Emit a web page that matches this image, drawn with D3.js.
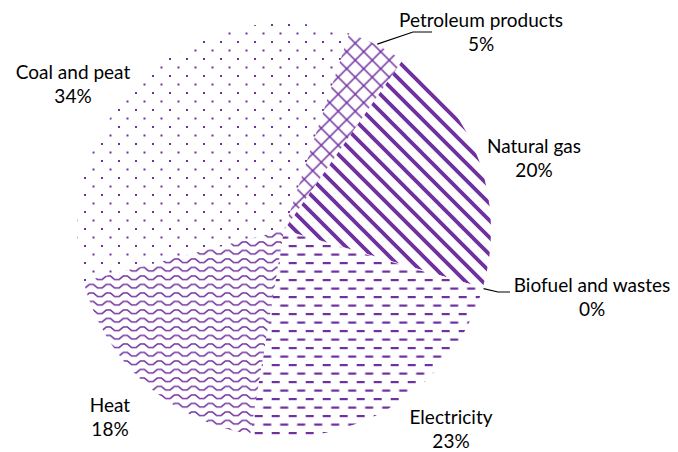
<!DOCTYPE html>
<html>
<head>
<meta charset="utf-8">
<script src="https://cdn.jsdelivr.net/npm/d3@7"></script>
<style>
  body { margin: 0; background: #fff; }
  text { font-family: Lato, "Open Sans", sans-serif; }
</style>
</head>
<body>
<div id="chart"></div>
<script>
// data, in IEA order (slices run clockwise from the first slice angle)
var categories = ["Coal and peat", "Petroleum products", "Natural gas", "Biofuel and wastes", "Electricity", "Heat"];
var shares = [34.1, 4.6, 19.8, 0.1, 23.0, 18.4];
var fills = ["dots", "cross", "stripes", null, "dashes", "waves"];

var svgWidth = 678;
var svgHeight = 452;
var purple = "#7030A0";

var cx = 284, cy = 230, radius = 207;
var firstSliceAngle = 255.6; // degrees

// where each label sits (centre x, first baseline)
var labelPos = [
  { x: 73, y: 79 },
  { x: 481, y: 27 },
  { x: 534, y: 153 },
  { x: 592, y: 292 },
  { x: 451, y: 424 },
  { x: 110, y: 412 }
];
// leader lines: elbow and end, only for the two small slices
var leaders = {
  1: [[413, 32], [432, 32]],
  3: [[498, 292], [510, 292]]
};

var svg = d3.select("#chart")
  .append("svg")
  .attr("width", svgWidth)
  .attr("height", svgHeight);

svg.append("rect")
  .attr("width", svgWidth)
  .attr("height", svgHeight)
  .attr("fill", "#fff");

var defs = svg.append("defs");

// pattern tiles; phase is given in page coords, converted to the pie group's coords
function makePattern(id, w, h, px, py) {
  return defs.append("pattern")
    .attr("id", id)
    .attr("patternUnits", "userSpaceOnUse")
    .attr("width", w)
    .attr("height", h)
    .attr("x", px - cx)
    .attr("y", py - cy);
}

var dots = makePattern("dots", 17, 17, 254, 24);
dots.append("rect").attr("x", 0).attr("y", 0).attr("width", 2).attr("height", 2).attr("fill", purple);
dots.append("rect").attr("x", 8.5).attr("y", 8.5).attr("width", 2).attr("height", 2).attr("fill", purple);

var cross = makePattern("cross", 17, 17, 346.7, 51.7);
cross.append("path")
  .attr("d", "M-1,-1L18,18M18,-1L-1,18")
  .attr("stroke", purple)
  .attr("stroke-width", 1.5)
  .attr("fill", "none");

var stripes = makePattern("stripes", 17, 17, 14, 0);
stripes.append("path")
  .attr("d", "M-2,-2L19,19M-19,-2L2,19M15,-2L36,19")
  .attr("stroke", purple)
  .attr("stroke-width", 3.8)
  .attr("fill", "none");

var dashes = makePattern("dashes", 17, 17, 271.7, 381);
dashes.append("rect").attr("x", 0).attr("y", 0).attr("width", 8).attr("height", 2.2).attr("fill", purple);
dashes.append("rect").attr("x", 8.5).attr("y", 8.5).attr("width", 8).attr("height", 2.2).attr("fill", purple);

var waves = makePattern("waves", 17, 8.5, 0, 3);
waves.append("path")
  .attr("d", "M-4.25,4.5L0,4.5L4.25,1L8.5,1L12.75,4.5L17,4.5L21.25,1")
  .attr("stroke", purple)
  .attr("stroke-width", 1.5)
  .attr("stroke-linejoin", "round")
  .attr("fill", "none");

var data = categories.map(function(c, i) {
  return { name: c, value: shares[i], fill: fills[i], i: i };
});

var start = firstSliceAngle * Math.PI / 180;
var pie = d3.pie()
  .sort(null)
  .value(function(d) { return d.value; })
  .startAngle(start)
  .endAngle(start + 2 * Math.PI);

var arcs = pie(data);

var arc = d3.arc().innerRadius(0).outerRadius(radius);
var edgeArc = d3.arc().innerRadius(radius + 1).outerRadius(radius + 1);

var pieGroup = svg.append("g")
  .attr("transform", `translate(${cx}, ${cy})`);

pieGroup.selectAll("path")
  .data(arcs)
  .enter()
  .append("path")
  .attr("d", arc)
  .attr("fill", function(d) { return d.data.fill ? `url(#${d.data.fill})` : "#fff"; });

// leader lines
arcs.forEach(function(d) {
  var pts = leaders[d.data.i];
  if (!pts) return;
  var p = edgeArc.centroid(d);
  var line = [[p[0] + cx, p[1] + cy]].concat(pts);
  svg.append("path")
    .attr("d", d3.line()(line))
    .attr("fill", "none")
    .attr("stroke", "#000")
    .attr("stroke-width", 1.2);
});

var labels = svg.append("g")
  .selectAll("text")
  .data(data)
  .enter()
  .append("text")
  .attr("text-anchor", "middle")
  .attr("font-size", "19px")
  .attr("fill", "#000");

labels.append("tspan")
  .attr("x", function(d) { return labelPos[d.i].x; })
  .attr("y", function(d) { return labelPos[d.i].y; })
  .text(function(d) { return d.name; });

labels.append("tspan")
  .attr("x", function(d) { return labelPos[d.i].x; })
  .attr("y", function(d) { return labelPos[d.i].y + 24; })
  .text(function(d) { return Math.round(d.value) + "%"; });
</script>
</body>
</html>
